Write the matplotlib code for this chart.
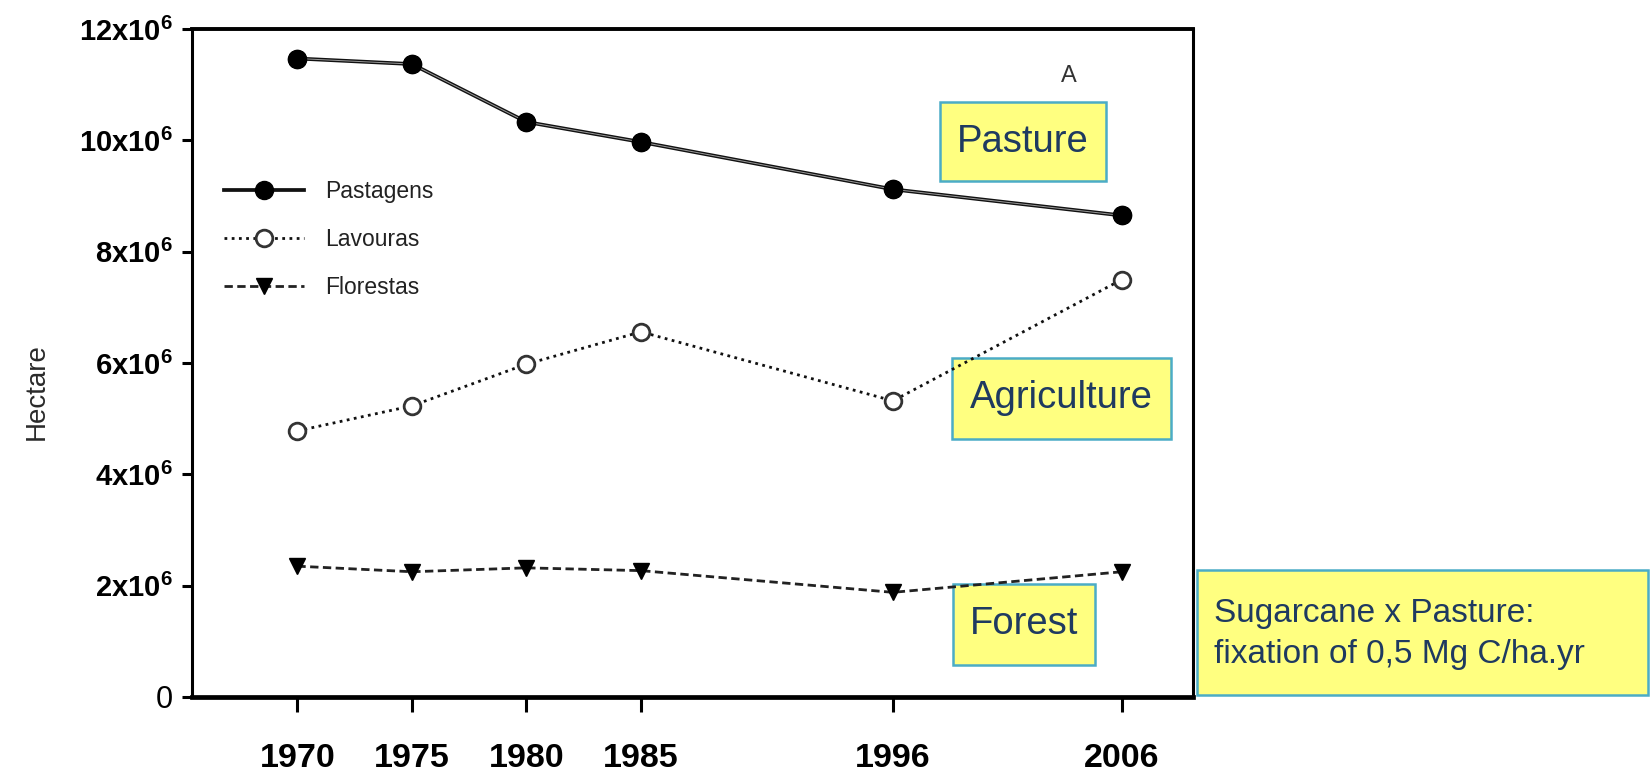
import matplotlib
matplotlib.use('Agg')
import matplotlib.pyplot as plt
from matplotlib.patches import Rectangle

# ---- data ----
years = [1970, 1975, 1980, 1985, 1996, 2006]
pastagens = [11.47e6, 11.37e6, 10.33e6, 9.97e6, 9.12e6, 8.65e6]
lavouras = [4.78e6, 5.23e6, 5.98e6, 6.56e6, 5.32e6, 7.50e6]
florestas = [2.35e6, 2.25e6, 2.32e6, 2.27e6, 1.88e6, 2.25e6]
series_labels = ['Pastagens', 'Lavouras', 'Florestas']
ytick_values = [0, 2e6, 4e6, 6e6, 8e6, 10e6, 12e6]
ytick_labels = ['0', r'2x10$^{\mathbf{6}}$', r'4x10$^{\mathbf{6}}$', r'6x10$^{\mathbf{6}}$',
                r'8x10$^{\mathbf{6}}$', r'10x10$^{\mathbf{6}}$', r'12x10$^{\mathbf{6}}$']
xtick_labels = ['1970', '1975', '1980', '1985', '1996', '2006']
box_labels = ['Pasture', 'Agriculture', 'Forest']
note_text = 'Sugarcane x Pasture:\nfixation of 0,5 Mg C/ha.yr'
y_label = 'Hectare'
panel_letter = 'A'

fam = 'Liberation Sans'
plt.rcParams['font.family'] = [fam, 'DejaVu Sans']
plt.rcParams['mathtext.fontset'] = 'custom'
plt.rcParams['mathtext.rm'] = fam
plt.rcParams['mathtext.bf'] = fam + ':bold'

W, H = 1651, 780
fig = plt.figure(figsize=(W / 100, H / 100), dpi=100)

def fx(px):
    return px / W

def fy(py):
    return 1 - py / H

ax_l, ax_r, ax_t, ax_b = 192, 1193, 29, 697
ax = fig.add_axes([fx(ax_l), fy(ax_b), fx(ax_r - ax_l), (ax_b - ax_t) / H])
ax.patch.set_alpha(0)

ax.plot(years, pastagens, color='#111111', lw=2.7, marker='o', ms=13,
        mfc='black', mec='black', label=series_labels[0], zorder=3)
ax.plot(years, pastagens, color='#9a9a9a', lw=0.7, zorder=3.5)
ax.plot(years, pastagens, ls='none', marker='o', ms=13, mfc='black', mec='black', zorder=4)
ax.plot(years, lavouras, color='#111111', lw=2.0, dashes=(1, 1.6), marker='o', ms=12,
        mfc='white', mec='#333333', mew=2.0, label=series_labels[1], zorder=4)
ax.plot(years, florestas, color='#222222', lw=2.0, dashes=(3, 1.6), marker='v', ms=11.5,
        mfc='black', mec='black', label=series_labels[2], zorder=4)

ax.set_xlim(1965.4, 2009.1)
ax.set_ylim(0, 12e6)
ax.set_xticks(years)
ax.set_xticklabels(xtick_labels, fontsize=24.5, fontweight='bold')
ax.set_yticks(ytick_values)
ax.set_yticklabels(ytick_labels, fontsize=21, fontweight='bold')
ax.get_yticklabels()[0].set_fontweight('normal')
ax.get_yticklabels()[0].set_fontsize(22)
ax.tick_params(axis='x', length=11, width=2.2, pad=22, direction='out')
ax.tick_params(axis='y', length=7, width=2.2, pad=7, direction='out')

for side, lw in [('left', 2.2), ('bottom', 3.4), ('top', 2.8), ('right', 2.2)]:
    ax.spines[side].set_linewidth(lw)
    ax.spines[side].set_color('black')

fig.text(fx(37), fy(392), y_label, rotation=90, ha='center', va='center',
         fontsize=20, color='#2a2a2a')

leg = ax.legend(loc='upper left', bbox_to_anchor=(fx(224), fy(180)),
                bbox_transform=fig.transFigure, frameon=False, fontsize=16.5,
                handlelength=3.5, handletextpad=0.9, labelspacing=1.1,
                borderpad=0, borderaxespad=0, numpoints=1)
for t in leg.get_texts():
    t.set_color('#222222')

ax.text(fx(1069), fy(76), panel_letter, transform=fig.transFigure, ha='center',
        va='center', fontsize=17, color='#333333')

box_fc = '#FFFF80'
box_ec = '#4BACC6'
txt_c = '#1F3A60'
boxes = [(940, 102, 1106, 181), (952, 358, 1171, 439), (953, 584, 1095, 665)]
for (x0, y0, x1, y1), lab in zip(boxes, box_labels):
    r = Rectangle((fx(x0), fy(y1)), fx(x1 - x0), (y1 - y0) / H, transform=fig.transFigure,
                  facecolor=box_fc, edgecolor=box_ec, lw=1.8, zorder=1, clip_on=False)
    ax.add_patch(r)
    ax.text(fx((x0 + x1) / 2), fy((y0 + y1) / 2), lab, transform=fig.transFigure,
            ha='center', va='center', fontsize=27.5, color=txt_c, zorder=2)

r = Rectangle((fx(1197), fy(695)), fx(1648 - 1197), (695 - 570) / H, transform=fig.transFigure,
              facecolor=box_fc, edgecolor=box_ec, lw=1.8, zorder=1, clip_on=False)
ax.add_patch(r)
ax.text(fx(1214), fy(634), note_text, transform=fig.transFigure, ha='left', va='center',
        fontsize=24, color=txt_c, linespacing=1.4, zorder=2)

fig.savefig('out.png', dpi=100)
